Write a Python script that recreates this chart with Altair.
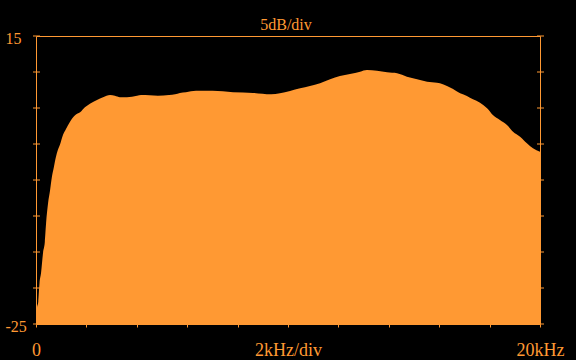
import altair as alt
import pandas as pd

ORANGE = "#ff9933"

freq_khz = [0, 0.04, 0.09, 0.14, 0.20, 0.28, 0.35, 0.40, 0.48, 0.56, 0.63, 0.71, 0.79,
            0.87, 0.95, 1.07, 1.19, 1.35, 1.55, 1.75, 1.94, 2.14, 2.42, 2.66, 2.94,
            3.13, 3.33, 3.61, 4.01, 4.17, 4.84, 5.28, 5.52, 5.71, 5.95, 6.35, 7.0,
            7.82, 8.61, 9.33, 9.68, 10.08, 10.48, 10.87, 11.27, 11.67, 12.06, 12.46,
            12.86, 13.13, 13.53, 13.93, 14.33, 14.72, 15.12, 15.52, 15.91, 16.03,
            16.31, 16.55, 16.83, 17.10, 17.34, 17.62, 17.90, 18.13, 18.41, 18.69,
            18.93, 19.21, 19.48, 19.72, 20.0]
level_db = [-25, -22.8, -21.9, -19.3, -17.9, -15.1, -13.6, -11.0, -8.2, -6.4, -4.6, -3.2, -1.8,
            -0.8, -0.1, 1.25, 2.1, 3.1, 4.0, 4.4, 5.1, 5.6, 6.1, 6.5, 6.8,
            6.7, 6.5, 6.5, 6.7, 6.8, 6.7, 6.8, 6.9, 7.1, 7.2, 7.4, 7.4,
            7.2, 7.1, 6.9, 7.04, 7.36, 7.74, 8.06, 8.43, 8.99, 9.44, 9.72,
            10.05, 10.28, 10.19, 9.95, 9.82, 9.35, 8.99, 8.65, 8.51, 8.43,
            8.06, 7.64, 7.04, 6.67, 6.21, 5.74, 4.96, 4.03, 3.33, 2.64,
            1.71, 1.01, 0.10, -0.60, -1.07]

y_ticks = [-25, -20, -15, -10, -5, 0, 5, 10, 15]
x_ticks = [0, 2, 4, 6, 8, 10, 12, 14, 16, 18, 20]
x_label_map = {0: "0", 10: "2kHz/div", 20: "20kHz"}
y_label_map = {15: "15", -25: "-25"}
title_text = "5dB/div"

df = pd.DataFrame({"f": freq_khz, "db": level_db})
title_df = pd.DataFrame({"f": [10], "db": [15], "t": [title_text]})
tick_df = pd.DataFrame({"db": y_ticks})

x_scale = alt.Scale(domain=[0, 20], nice=False, zero=False)
y_scale = alt.Scale(domain=[-25, 15], nice=False, zero=False)

x_label_expr = " : ".join(
    [f"datum.value == {k} ? '{v}'" for k, v in x_label_map.items()]) + " : ''"
y_label_expr = " : ".join(
    [f"datum.value == {k} ? '{v}'" for k, v in y_label_map.items()]) + " : ''"

x_axis = alt.Axis(values=x_ticks, domain=False, grid=False, tickSize=3,
                  tickColor=ORANGE, labelColor=ORANGE, labelExpr=x_label_expr,
                  labelFont="Liberation Serif", labelFontSize=18,
                  labelBaseline="alphabetic", labelAlign="center",
                  labelPadding=28, labelFlush=False, labelOverlap=False)
y_axis = alt.Axis(orient="left", values=y_ticks, domain=False, grid=False,
                  ticks=False, labelColor=ORANGE,
                  labelExpr=y_label_expr, labelFont="Liberation Serif",
                  labelFontSize=16, labelAlign="left", labelBaseline="alphabetic",
                  labelPadding=31, labelOffset=7, labelFlush=False,
                  labelOverlap=False)

area = alt.Chart(df).mark_area(color=ORANGE, interpolate="monotone", opacity=1).encode(
    x=alt.X("f:Q", scale=x_scale, title=None, axis=x_axis),
    y=alt.Y("db:Q", scale=y_scale, title=None, axis=y_axis),
    y2=alt.datum(-25),
)

# tick marks crossing the left and right borders
left_ticks = alt.Chart(tick_df).mark_rule(color=ORANGE, strokeWidth=1).encode(
    y=alt.Y("db:Q", scale=y_scale, title=None, axis=y_axis),
    x=alt.value(-3),
    x2=alt.value(4),
)
right_ticks = alt.Chart(tick_df).mark_rule(color=ORANGE, strokeWidth=1).encode(
    y=alt.Y("db:Q", scale=y_scale, title=None, axis=y_axis),
    x=alt.value(501),
    x2=alt.value(508),
)

title = alt.Chart(title_df).mark_text(
    color=ORANGE, font="Liberation Serif", fontSize=16, baseline="alphabetic",
    align="center", dy=-6, dx=-2, clip=False
).encode(
    x=alt.X("f:Q", scale=x_scale, title=None, axis=x_axis),
    y=alt.Y("db:Q", scale=y_scale, title=None, axis=y_axis),
    text="t:N",
)

chart = alt.layer(area, left_ticks, right_ticks, title).properties(
    width=504, height=288,
    autosize=alt.AutoSizeParams(type="none"),
    padding={"left": 36, "top": 36, "right": 36, "bottom": 36},
    background="black",
).configure_view(stroke=ORANGE, strokeWidth=1, fill="black")

chart.save("out.html", embed_options={"renderer": "svg", "actions": False})
